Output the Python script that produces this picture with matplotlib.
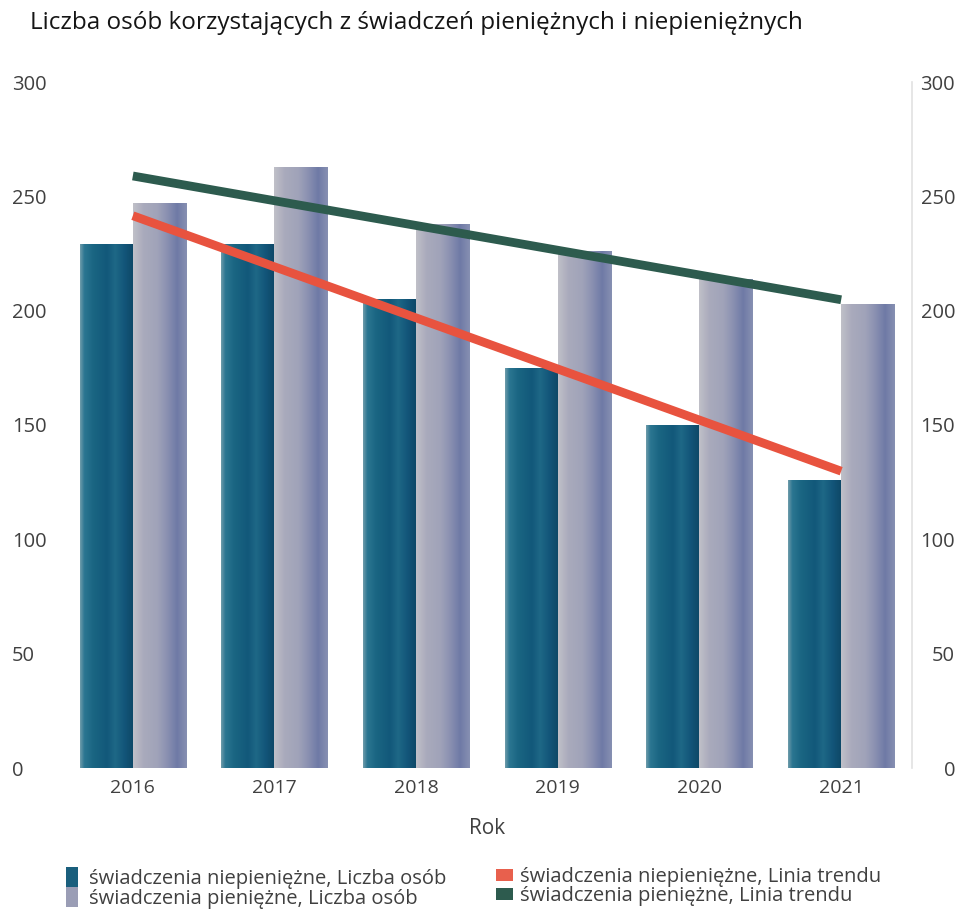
import numpy as np
import matplotlib
matplotlib.use("Agg")
import matplotlib.pyplot as plt
from matplotlib.colors import LinearSegmentedColormap
from matplotlib.patches import Patch

plt.rcParams['font.family'] = ['Open Sans', 'DejaVu Sans']

years = ['2016', '2017', '2018', '2019', '2020', '2021']
niepieniezne = [229, 229, 205, 175, 150, 126]
pieniezne = [247, 263, 238, 226, 214, 203]
yticks = [0, 50, 100, 150, 200, 250, 300]

title = 'Liczba osób korzystających z świadczeń pieniężnych i niepieniężnych'
label_np = 'świadczenia niepieniężne, Liczba osób'
label_p = 'świadczenia pieniężne, Liczba osób'
label_tnp = 'świadczenia niepieniężne, Linia trendu'
label_tp = 'świadczenia pieniężne, Linia trendu'

txt = '#404040'
fig = plt.figure(figsize=(9.62, 9.10), dpi=100)
ax = fig.add_axes([62/962, 1-768/910, (912-62)/962, (768-82)/910])

x = np.arange(len(years))
w = 0.375
cmap_dark = LinearSegmentedColormap.from_list('d', [
    (0.0, '#6f9cab'), (0.08, '#2b7691'), (0.25, '#1a6582'), (0.5, '#12587a'),
    (0.65, '#1e6886'), (0.82, '#13567a'), (1.0, '#0d4765')])
cmap_light = LinearSegmentedColormap.from_list('l', [
    (0.0, '#c0c0c8'), (0.2, '#a9aabc'), (0.45, '#a0a3b9'), (0.62, '#8c92b2'),
    (0.82, '#6f7aa6'), (1.0, '#8790b2')])
grad = np.linspace(0, 1, 256).reshape(1, -1)

bars_d = ax.bar(x - w/2, niepieniezne, width=w, color='#155a78', zorder=2)
bars_l = ax.bar(x + w/2, pieniezne, width=w, color='#9a9db5', zorder=2)
for bars, cm in ((bars_d, cmap_dark), (bars_l, cmap_light)):
    for b in bars:
        x0, y0 = b.get_x(), b.get_y()
        im = ax.imshow(grad, cmap=cm, aspect='auto', zorder=2.5,
                       extent=[x0, x0 + b.get_width(), y0, y0 + b.get_height()])
        im.set_clip_path(b)

for vals, col in ((niepieniezne, '#e8533f'), (pieniezne, '#2d5b4e')):
    k, c = np.polyfit(x, vals, 1)
    ax.plot(x, k*x + c, color=col, lw=6.3, solid_capstyle='butt', zorder=3)

ax.set_xlim(-0.5, 5.5)
ax.set_ylim(0, 300)
ax.set_xticks(x)
ax.set_xticklabels(years, fontsize=14, color=txt)
ax.set_yticks(yticks)
ax.set_yticklabels([str(v) for v in yticks], fontsize=14.5, color=txt, ha='left')
ax.tick_params(axis='y', length=0, pad=36)
ax.tick_params(axis='x', length=0, pad=8)

ax2 = ax.twinx()
ax2.set_ylim(0, 300)
ax2.set_yticks(yticks)
ax2.set_yticklabels([str(v) for v in yticks], fontsize=14.5, color=txt, ha='right')
ax2.tick_params(axis='y', length=0, pad=31)

for a in (ax, ax2):
    for s in a.spines.values():
        s.set_visible(False)
ax2.spines['right'].set_visible(True)
ax2.spines['right'].set_color('#e2e2e2')
ax2.spines['right'].set_linewidth(1.2)

ax.set_xlabel('Rok', fontsize=15, color=txt, labelpad=15)

fig.text(30/962, 1-23/910, title, fontsize=17.5, color='#151515', va='center', ha='left')

h1 = [Patch(facecolor='#1a5f7d', label=label_np), Patch(facecolor='#9a9db5', label=label_p)]
h2 = [Patch(facecolor='#e8604d', label=label_tnp), Patch(facecolor='#2d5b4e', label=label_tp)]
leg1 = fig.legend(handles=h1, loc='upper left', bbox_to_anchor=(58/962, 1-859/910),
                  frameon=False, fontsize=14.5, handlelength=0.6, handleheight=1.15,
                  handletextpad=0.55, labelspacing=-0.1, borderaxespad=0, labelcolor=txt)
leg2 = fig.legend(handles=h2, loc='upper left', bbox_to_anchor=(488/962, 1-859/910),
                  frameon=False, fontsize=14.5, handlelength=0.85, handleheight=0.5,
                  handletextpad=0.35, labelspacing=-0.05, borderaxespad=0, labelcolor=txt)

fig.savefig('out.png', dpi=100)
